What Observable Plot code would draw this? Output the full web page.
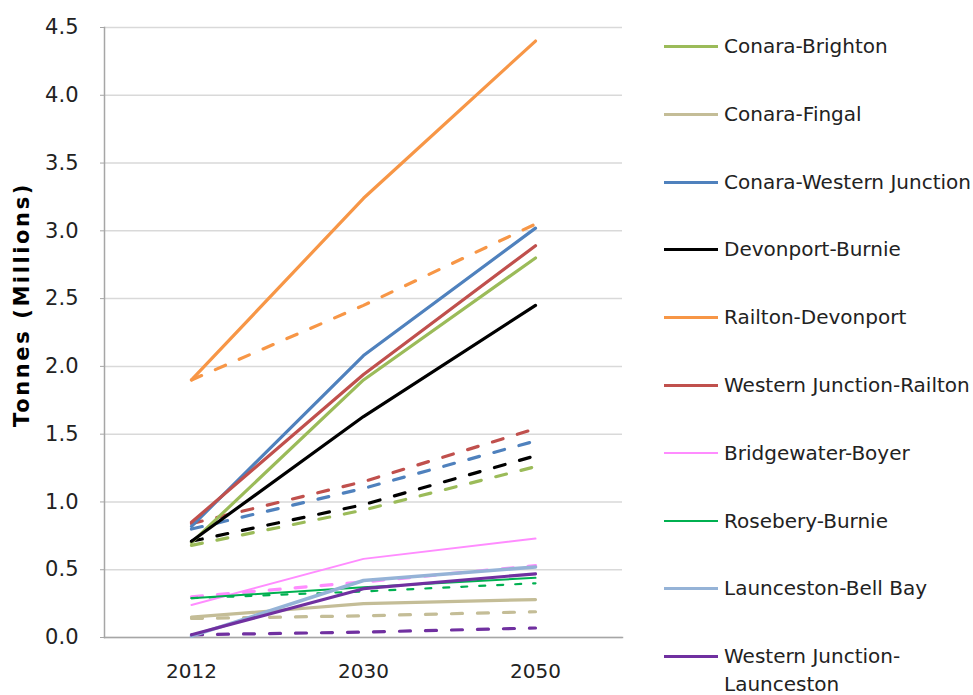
<!DOCTYPE html>
<html>
<head>
<meta charset="utf-8">
<script src="https://cdn.jsdelivr.net/npm/d3@7"></script>
<script src="https://cdn.jsdelivr.net/npm/@observablehq/plot@0.6"></script>
<style>
  html, body { margin: 0; padding: 0; background: #fff; overflow: hidden; }
  #wrap { position: relative; width: 973px; height: 695px; font-family: "DejaVu Sans", sans-serif; }
  #legend .row { position: absolute; left: 664px; display: flex; align-items: flex-start; }
  #legend .swatch { width: 54px; margin-top: 13px; }
  #legend .label { margin-left: 6px; font-size: 20px; line-height: 28px; color: #222; white-space: nowrap; }
</style>
</head>
<body>
<div id="wrap"><div id="legend"></div></div>
<script>
// ---- data ----
const years = ["2012", "2030", "2050"];
const routes = [
  "Conara-Brighton",
  "Conara-Fingal",
  "Conara-Western Junction",
  "Devonport-Burnie",
  "Railton-Devonport",
  "Western Junction-Railton",
  "Bridgewater-Boyer",
  "Rosebery-Burnie",
  "Launceston-Bell Bay",
  "Western Junction-Launceston"
];
// solid lines (high scenario), Tonnes (Millions)
const highValues = [
  [0.70, 1.90, 2.80],
  [0.15, 0.25, 0.28],
  [0.82, 2.08, 3.02],
  [0.71, 1.63, 2.45],
  [1.90, 3.24, 4.40],
  [0.85, 1.94, 2.89],
  [0.24, 0.58, 0.73],
  [0.29, 0.37, 0.44],
  [0.01, 0.42, 0.52],
  [0.02, 0.36, 0.47]
];
// dashed lines (low scenario); null = not visible
const lowValues = [
  [0.68, 0.94, 1.26],
  [0.14, 0.16, 0.19],
  [0.80, 1.10, 1.45],
  [0.71, 0.98, 1.34],
  [1.90, 2.45, 3.05],
  [0.84, 1.15, 1.54],
  [0.30, 0.41, 0.53],
  [0.29, 0.34, 0.40],
  null,
  [0.02, 0.04, 0.07]
];
const yTicks = [0, 0.5, 1, 1.5, 2, 2.5, 3, 3.5, 4, 4.5];

// ---- styles ----
const colors = ["#9BBB59", "#C4BD97", "#4F81BD", "#000000", "#F79646",
                "#C0504D", "#FF8CFF", "#00B050", "#95B3D7", "#7030A0"];
const widths = [3.2, 3.2, 3.2, 3.2, 3.2, 3.2, 2, 2, 3.6, 3.2];
const dashWidths = [3.2, 3.2, 3.2, 3.2, 3.2, 3.2, 3.2, 2.2, 3.2, 3.2];

const toRows = (vals) => vals ? years.map((y, i) => ({year: y, value: vals[i]})) : [];

const dashedMarks = routes.map((r, i) =>
  Plot.line(toRows(lowValues[i]), {
    x: "year", y: "value", stroke: colors[i],
    strokeWidth: dashWidths[i],
    strokeDasharray: dashWidths[i] < 3 ? "6,12" : "11,15",
    strokeLinecap: "round"
  })
);
const solidMarks = routes.map((r, i) =>
  Plot.line(toRows(highValues[i]), {
    x: "year", y: "value", stroke: colors[i], strokeWidth: widths[i],
    strokeLinecap: "round"
  })
);

const chart = Plot.plot({
  width: 640,
  height: 695,
  marginLeft: 104,
  marginRight: 18,
  marginTop: 27,
  marginBottom: 58,
  style: {fontFamily: "DejaVu Sans, sans-serif", fontSize: "20px", color: "#222", background: "#fff", overflow: "visible"},
  x: {type: "point", domain: years, padding: 0.5},
  y: {domain: [0, 4.5]},
  marks: [
    Plot.gridY(yTicks, {stroke: "#D9D9D9", strokeOpacity: 1, strokeWidth: 1.5}),
    Plot.frame({anchor: "left", stroke: "#A6A6A6", strokeWidth: 1.5}),
    Plot.frame({anchor: "bottom", stroke: "#A6A6A6", strokeWidth: 1.5}),
    Plot.axisY(yTicks, {tickSize: 4, tickPadding: 22, stroke: "#A6A6A6", tickFormat: d => d.toFixed(1), label: null, fontSize: 21}),
    Plot.axisX({tickSize: 0, tickPadding: 26, label: null, fontSize: 20}),
    Plot.text(["Tonnes (Millions)"], {
      frameAnchor: "left", textAnchor: "middle", rotate: -90, dx: -82, dy: -28,
      fontWeight: "bold", fontSize: 21, fill: "#000",
      className: "ytitle"
    }),
    ...dashedMarks,
    ...solidMarks
  ]
});
d3.select(chart).selectAll(".ytitle text").attr("letter-spacing", "2.6px");
chart.style.position = "absolute";
chart.style.left = "0px";
chart.style.top = "0px";
document.getElementById("wrap").prepend(chart);

// ---- legend ----
const legend = d3.select("#legend");
routes.forEach((r, i) => {
  const row = legend.append("div").attr("class", "row").style("top", (32 + i * 67.8) + "px");
  row.append("div").attr("class", "swatch")
    .style("height", (widths[i] >= 3 ? 3 : 2) + "px")
    .style("background", colors[i]);
  const label = row.append("div").attr("class", "label");
  if (r === "Western Junction-Launceston") {
    label.html("Western Junction-<br>Launceston");
  } else {
    label.text(r);
  }
});
</script>
</body>
</html>
